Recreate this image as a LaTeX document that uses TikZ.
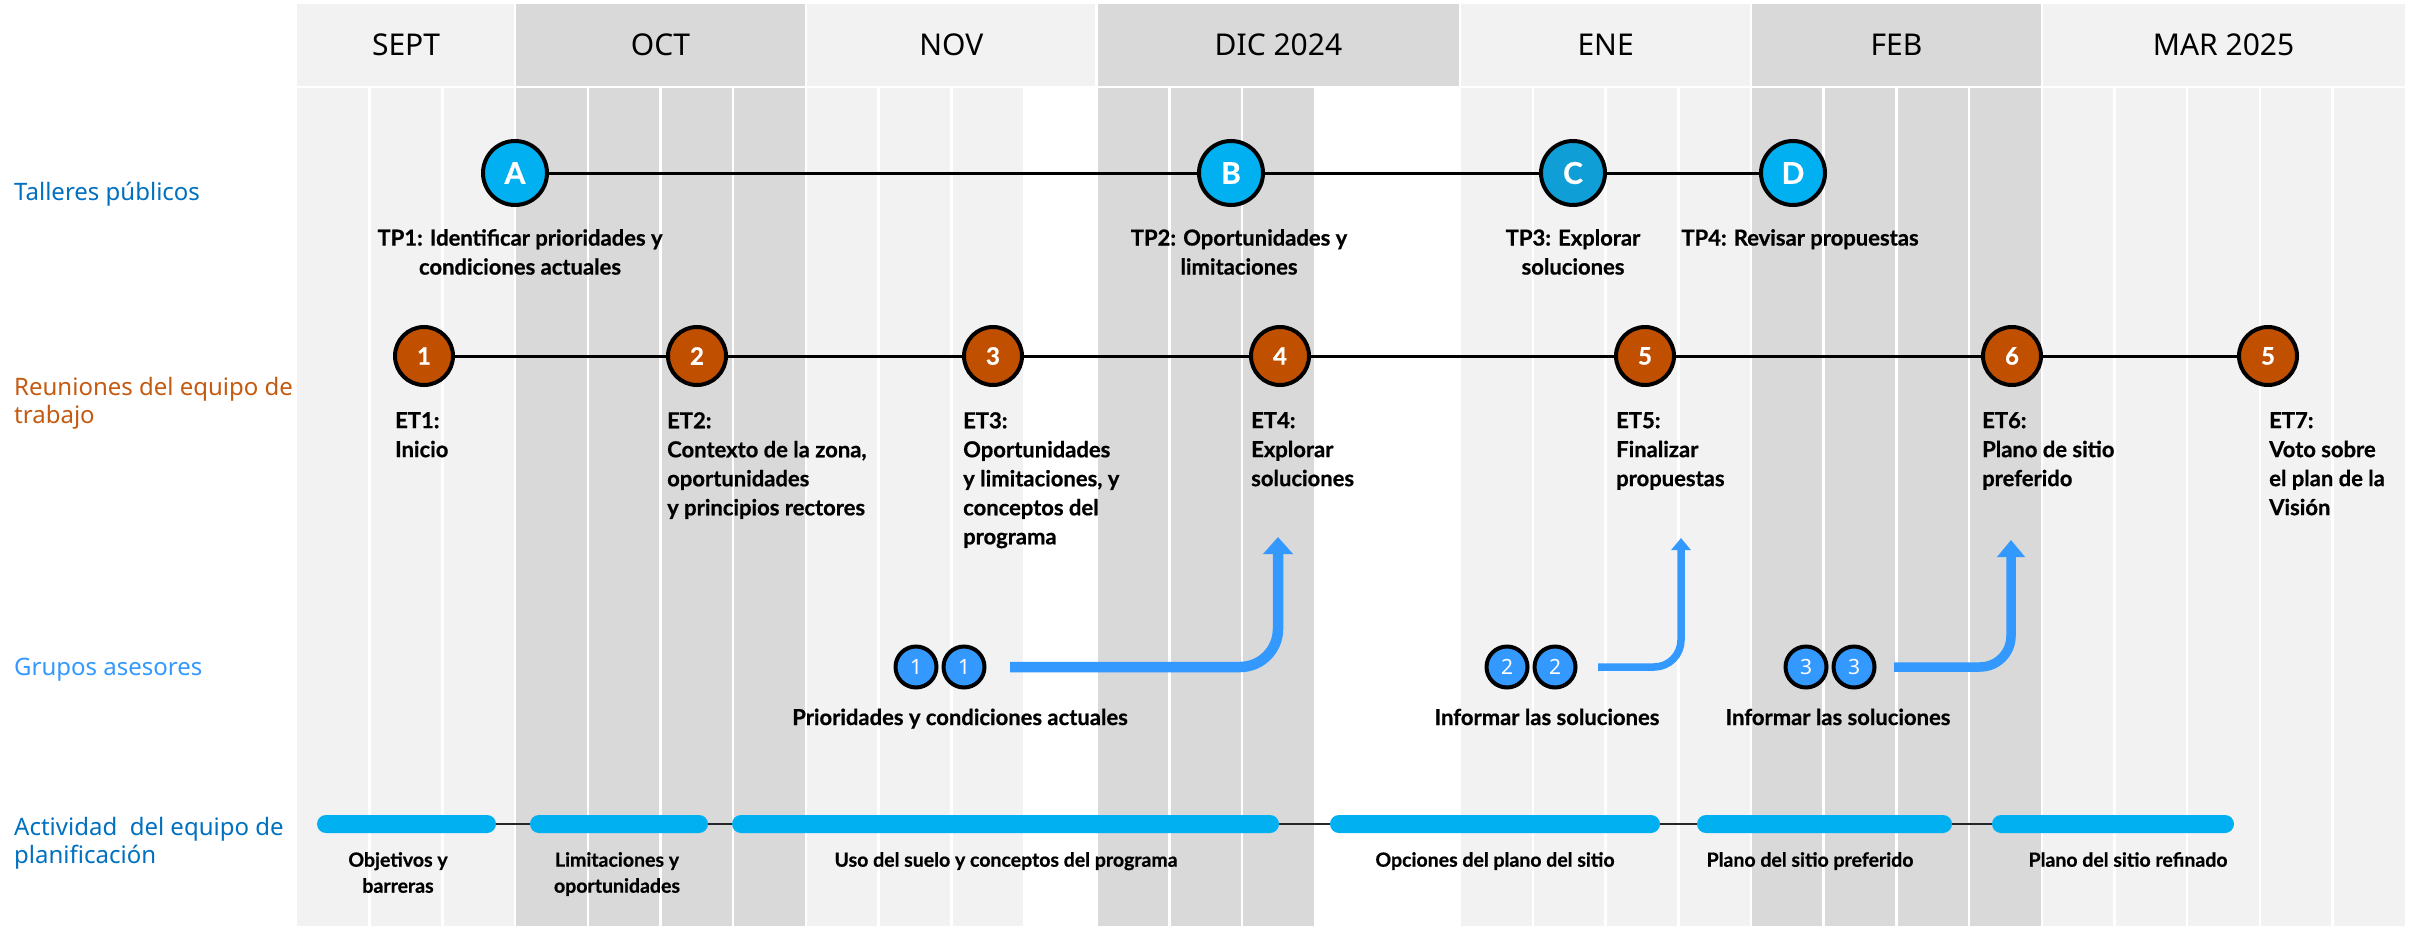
\documentclass[tikz,border=0pt]{standalone}
\usepackage{fontspec}
\setmainfont{Noto Sans}
\newfontfamily\labelfont{Lato}[BoldFeatures={FakeBold=0.7}]
\usetikzlibrary{positioning,arrows.meta}

\definecolor{bandlight}{HTML}{F2F2F2}
\definecolor{banddark}{HTML}{D9D9D9}
\definecolor{tpfill}{HTML}{00B0F0}
\definecolor{tpfillC}{HTML}{0F9ED5}
\definecolor{etfill}{HTML}{C04F00}
\definecolor{agfill}{HTML}{3399FF}
\definecolor{rowblue}{HTML}{0070C0}
\definecolor{roworange}{HTML}{C55A11}

\begin{document}
\begin{tikzpicture}[x=1pt,y=-1pt]
\tikzstyle{month}=[font=\fontsize{30}{36}\selectfont, inner sep=0pt]
\tikzstyle{rowname}=[font=\fontsize{24}{28}\selectfont, align=left, inner sep=0pt]
\tikzstyle{tp}=[circle, minimum size=64pt, inner sep=0pt, line width=4pt, draw=black, fill=tpfill, text=white, font=\labelfont\bfseries\fontsize{30}{30}\selectfont]
\tikzstyle{et}=[circle, minimum size=58pt, inner sep=0pt, line width=4pt, draw=black, fill=etfill, text=white, font=\labelfont\bfseries\fontsize{24}{24}\selectfont]
\tikzstyle{ag}=[circle, minimum size=41pt, inner sep=0pt, line width=4pt, draw=black, fill=agfill, text=white, font=\fontsize{21}{21}\selectfont]
\tikzstyle{txt}=[font=\labelfont\bfseries\fontsize{22}{29}\selectfont, inner sep=0pt]
\tikzstyle{bartxt}=[font=\labelfont\bfseries\fontsize{19.5}{26}\selectfont, inner sep=0pt, align=center, anchor=north]
\tikzstyle{bar}=[rectangle, rounded corners=9pt, minimum height=18pt, inner sep=0pt, fill=tpfill]
\tikzstyle{link}=[line width=3pt]
\tikzstyle{barlink}=[line width=1.6pt, draw=black!85]
\tikzstyle{feed}=[draw=agfill, rounded corners=38pt, line width=10.5pt, -{Triangle[width=29pt,length=17pt]}]

\useasboundingbox (0,0) rectangle (2425,926);
\fill[white] (0,0) rectangle (2425,926);

% week columns
\foreach \wk/\bandcol in {0/bandlight,1/bandlight,2/bandlight,3/banddark,4/banddark,5/banddark,6/banddark,7/bandlight,8/bandlight,9/bandlight,10/white,11/banddark,12/banddark,13/banddark,14/white,15/white,16/bandlight,17/bandlight,18/bandlight,19/bandlight,20/banddark,21/banddark,22/banddark,23/banddark,24/bandlight,25/bandlight,26/bandlight,27/bandlight,28/bandlight}
  \fill[\bandcol] ({297+\wk*72.7},88) rectangle ++(72.7,838);
\foreach \wk in {1,...,28}
  \draw[white, line width=2.5pt] ({297+\wk*72.7},88) -- ++(0,838);

% months
\foreach \a/\b/\bandcol/\mes [count=\i] in {0/3/bandlight/SEPT,3/7/banddark/OCT,7/11/bandlight/NOV,11/16/banddark/DIC 2024,16/20/bandlight/ENE,20/24/banddark/FEB,24/29/bandlight/MAR 2025}{
  \fill[\bandcol] ({297+\a*72.7},4) rectangle ({297+\b*72.7},86);
  \node[month] (m\i) at ({297+(\a+\b)*36.35},45) {\mes};
}
\foreach \a in {3,7,11,16,20,24}
  \draw[white, line width=2.5pt] ({297+\a*72.7},4) -- ++(0,82);

% row names
\node[rowname, text=rowblue, anchor=base west] (rowtp) at (14,200.5) {Talleres públicos};
\node[rowname, text=roworange, anchor=north west] (rowet) at (14,377) {Reuniones del equipo de\\trabajo};
\node[rowname, text=agfill, anchor=base west] (rowag) at (14,675.5) {Grupos asesores};
\node[rowname, text=rowblue, anchor=north west] (rowpa) at (14,817) {Actividad~ del equipo de\\planificación};

% talleres publicos
\node[tp] (tpA) at (515,173) {A};
\node[tp] (tpB) at (1231,173) {B};
\node[tp, fill=tpfillC] (tpC) at (1573,173) {C};
\node[tp] (tpD) at (1793,173) {D};
\path (tpA) edge [link] (tpB)
      (tpB) edge [link] (tpC)
      (tpC) edge [link] (tpD);
\node[txt, align=center] (tp1) [below=22pt of tpA, xshift=5pt] {TP1: Identificar prioridades y\\condiciones actuales};
\node[txt, align=center] (tp2) [below=22pt of tpB, xshift=8pt] {TP2: Oportunidades y\\limitaciones};
\node[txt, align=center] (tp3) [below=22pt of tpC] {TP3: Explorar\\soluciones};
\node[txt, align=center] (tp4) [below=22pt of tpD, xshift=7pt] {TP4: Revisar propuestas};

% reuniones del equipo de trabajo
\foreach \n/\x/\num in {1/424/1,2/697/2,3/993/3,4/1280/4,5/1645/5,6/2012/6,7/2268/5}
  \node[et] (et\n) at (\x,356) {\num};
\foreach \a/\b in {1/2,2/3,3/4,4/5,5/6,6/7}
  \path (et\a) edge [link] (et\b);
\node[txt, align=left, anchor=north west] (et1txt) at (395,412) {ET1:\\Inicio};
\node[txt, align=left, anchor=north west] (et2txt) at (667,412) {ET2:\\Contexto de la zona,\\oportunidades\\y principios rectores};
\node[txt, align=left, anchor=north west] (et3txt) at (963,412) {ET3:\\Oportunidades\\y limitaciones, y\\conceptos del\\programa};
\node[txt, align=left, anchor=north west] (et4txt) at (1251,412) {ET4:\\Explorar\\soluciones};
\node[txt, align=left, anchor=north west] (et5txt) at (1616,412) {ET5:\\Finalizar\\propuestas};
\node[txt, align=left, anchor=north west] (et6txt) at (1982,412) {ET6:\\Plano de sitio\\preferido};
\node[txt, align=left, anchor=north west] (et7txt) at (2269,412) {ET7:\\Voto sobre\\el plan de la\\Visión};

% grupos asesores
\node[ag] (ag1a) at (916,667) {1};
\node[ag] (ag1b) at (964,667) {1};
\node[ag] (ag2a) at (1507,667) {2};
\node[ag] (ag2b) at (1555,667) {2};
\node[ag] (ag3a) at (1806,667) {3};
\node[ag] (ag3b) at (1854,667) {3};
\node[txt, anchor=base] (ag1txt) at (960,725) {Prioridades y condiciones actuales};
\node[txt, anchor=base] (ag2txt) at (1547,725) {Informar las soluciones};
\node[txt, anchor=base] (ag3txt) at (1838,725) {Informar las soluciones};
\coordinate (up4) at (1278,537);
\coordinate (up5) at (1681,538);
\coordinate (up6) at (2011,540);
\draw[feed, shorten <=23.5pt] (ag1b.east) -| (up4);
\draw[feed, line width=7.5pt, rounded corners=27pt, -{Triangle[width=19pt,length=12pt]}, shorten <=20.5pt] (ag2b.east) -| (up5);
\draw[feed, line width=9.5pt, rounded corners=31pt, -{Triangle[width=27pt,length=17pt]}, shorten <=17.5pt] (ag3b.east) -| (up6);

% actividad del equipo de planificacion
\node[bar, minimum width=179pt] (act1) at (406.5,824) {};
\node[bar, minimum width=178pt] (act2) at (619,824) {};
\node[bar, minimum width=547pt] (act3) at (1005.5,824) {};
\node[bar, minimum width=330pt] (act4) at (1495,824) {};
\node[bar, minimum width=255pt] (act5) at (1824.5,824) {};
\node[bar, minimum width=242pt] (act6) at (2113,824) {};
\foreach \a/\b in {1/2,2/3,3/4,4/5,5/6}
  \path (act\a) edge [barlink] (act\b);
\node[bartxt] (act1txt) at (398,852) {Objetivos y\\barreras};
\node[bartxt] (act2txt) at (617,852) {Limitaciones y\\oportunidades};
\node[bartxt] (act3txt) at (1006,852) {Uso del suelo y conceptos del programa};
\node[bartxt] (act4txt) at (1495,852) {Opciones del plano del sitio};
\node[bartxt] (act5txt) at (1810,852) {Plano del sitio preferido};
\node[bartxt] (act6txt) at (2128,852) {Plano del sitio refinado};
\end{tikzpicture}
\end{document}
